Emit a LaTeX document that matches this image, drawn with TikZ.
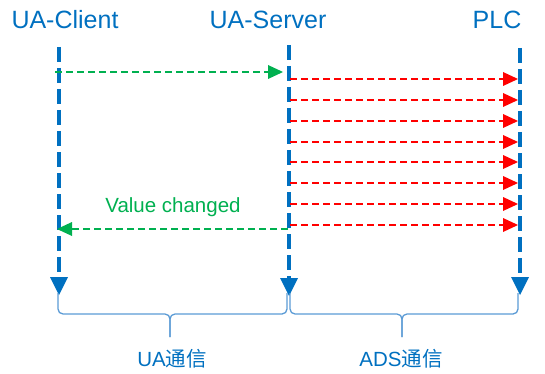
\documentclass[tikz,border=0pt]{standalone}
\usepackage{fontspec}
\setmainfont{Liberation Sans}
\newfontfamily\cjk{Noto Sans CJK SC}
\usetikzlibrary{arrows.meta}
\definecolor{lifeblue}{RGB}{0,112,192}
\definecolor{msggreen}{RGB}{0,176,80}
\definecolor{bracecol}{RGB}{91,155,213}

\begin{document}
\begin{tikzpicture}[x=1pt,y=-1pt,
  lifeline/.style={draw=lifeblue, line width=4.8pt, dash pattern=on 15pt off 6pt,
    -{Triangle[length=18pt,width=18pt,line width=0pt]}},
  uamsg/.style={draw=msggreen, line width=2pt, dash pattern=on 7pt off 4pt,
    -{Triangle[length=15pt,width=14pt,line width=0pt]}},
  adsmsg/.style={draw=red, line width=2.2pt, dash pattern=on 7pt off 4pt,
    -{Triangle[length=15pt,width=14pt,line width=0pt]}},
  actor/.style={text=lifeblue, font=\fontsize{25}{30}\selectfont, anchor=base, inner sep=0pt},
  msglabel/.style={text=msggreen, font=\fontsize{20.5}{24}\selectfont, anchor=base, inner sep=0pt},
  span/.style={draw=bracecol, line width=1.3pt, rounded corners=5pt},
  spanlabel/.style={text=lifeblue, font=\fontsize{20.5}{24}\selectfont, anchor=base, inner sep=0pt}
]
\useasboundingbox (0,0) rectangle (545,374);

% participants
\node[actor] (client) at (65,29) {UA-Client};
\node[actor] (server) at (268,29) {UA-Server};
\node[actor] (plc)    at (497,29) {PLC};

% lifelines
\coordinate (c-top) at (59,47);  \coordinate (c-bot) at (59,295);
\coordinate (s-top) at (289,45); \coordinate (s-bot) at (289,296);
\coordinate (p-top) at (520,48); \coordinate (p-bot) at (520,295);
\draw[lifeline] (c-top) -- (c-bot);
\draw[lifeline] (s-top) -- (s-bot);
\draw[lifeline] (p-top) -- (p-bot);

% subscription request
\coordinate (req-from) at (55,72);
\coordinate (req-to)   at (283,72);
\draw[uamsg] (req-from) -- (req-to);

% cyclic ADS reads
\foreach \i/\y in {1/79,2/100,3/121,4/142,5/162,6/183,7/204,8/225}{
  \coordinate (ads-from-\i) at (290,\y);
  \coordinate (ads-to-\i)   at (518,\y);
  \draw[adsmsg] (ads-from-\i) -- (ads-to-\i);
}

% notification back to the client
\coordinate (note-from) at (288,229);
\coordinate (note-to)   at (57,229);
\draw[uamsg] (note-from) -- (note-to);
\node[msglabel] (changed) at (173,212) {Value changed};

% protocol spans
\coordinate (ua-l) at (58,293);  \coordinate (ua-r) at (287,293);
\coordinate (ua-tip) at (170,337);
\coordinate (ads-l) at (290,293); \coordinate (ads-r) at (518,293);
\coordinate (ads-tip) at (402,337);
\draw[span] (ua-l) -- (ua-l |- 0,314) -- (ua-tip |- 0,314) -- (ua-tip);
\draw[span] (ua-tip) -- (ua-tip |- 0,314) -- (ua-r |- 0,314) -- (ua-r);
\draw[span] (ads-l) -- (ads-l |- 0,314) -- (ads-tip |- 0,314) -- (ads-tip);
\draw[span] (ads-tip) -- (ads-tip |- 0,314) -- (ads-r |- 0,314) -- (ads-r);
\node[spanlabel] (ua-label)  at (172,366) {UA{\cjk 通信}};
\node[spanlabel] (ads-label) at (401,366) {ADS{\cjk 通信}};
\end{tikzpicture}
\end{document}
